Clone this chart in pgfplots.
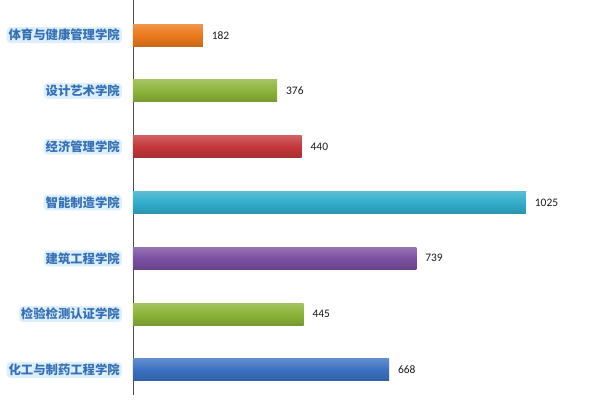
\documentclass[border=0pt]{standalone}
\usepackage{fontspec}
\setmainfont{Carlito}
\newfontfamily\cjk{Noto Sans CJK SC}
\usepackage{pgfplots}
\pgfplotsset{compat=1.18}
\definecolor{cOrange}{HTML}{EC7A1C}
\definecolor{cGreen}{HTML}{8CB43A}
\definecolor{cRed}{HTML}{C3373A}
\definecolor{cTeal}{HTML}{31ADCB}
\definecolor{cPurple}{HTML}{7B4FA1}
\definecolor{cBlue}{HTML}{3A70C2}
\definecolor{labBlue}{HTML}{3570B6}
\definecolor{glow}{HTML}{DDEFFB}
\pgfplotsset{mybar/.style={xbar, bar width=22bp, bar shift=0pt, draw=none,
  top color=#1!80!white, bottom color=#1!85!black, middle color=#1}}
\begin{document}
\begin{tikzpicture}
\begin{axis}[
  scale only axis,
  width=460bp, height=395bp,
  xmin=0, xmax=1200,
  ymin=-0.45, ymax=6.63,
  axis x line=none,
  axis y line*=left,
  y axis line style={-, draw=black!70, line width=0.6pt},
  ytick={0,1,2,3,4,5,6},
  yticklabels={化工与制药工程学院,检验检测认证学院,建筑工程学院,智能制造学院,经济管理学院,设计艺术学院,体育与健康管理学院},
  major tick length=0pt,
  yticklabel style={font=\cjk\bfseries\fontsize{12.4}{14}\selectfont, text=labBlue,
     fill=glow, rounded corners=4pt, inner sep=2pt, xshift=-11bp},
  point meta=x,
  nodes near coords,
  nodes near coords style={anchor=west, xshift=5.5bp, text=black!90,
     font=\fontsize{11.5}{13}\selectfont,
     /pgf/number format/assume math mode=true, /pgf/number format/1000 sep={}},
  clip=false,
]
\addplot[mybar=cBlue] coordinates {(668,0)};
\addplot[mybar=cGreen] coordinates {(445,1)};
\addplot[mybar=cPurple] coordinates {(739,2)};
\addplot[mybar=cTeal] coordinates {(1025,3)};
\addplot[mybar=cRed] coordinates {(440,4)};
\addplot[mybar=cGreen] coordinates {(376,5)};
\addplot[mybar=cOrange] coordinates {(182,6)};
\coordinate (O) at (rel axis cs:0,0);
\end{axis}
\pgfresetboundingbox
\path[use as bounding box] ([xshift=-133bp,yshift=-8bp]O) rectangle ++(600bp,403bp);
\end{tikzpicture}
\end{document}
